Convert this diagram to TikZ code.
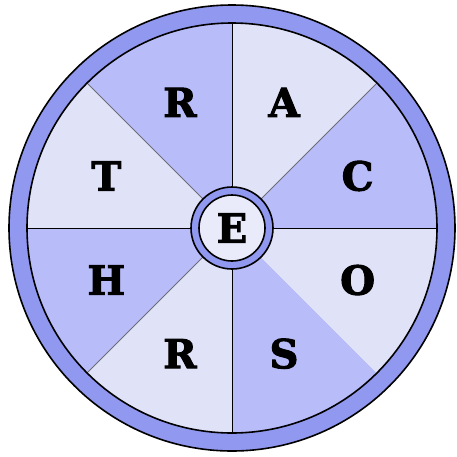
\documentclass[tikz,border=0pt]{standalone}
\usepackage{fontspec}
\newfontfamily\wheelfont{DejaVu Serif Bold}[FakeBold=2.5]
\definecolor{ringblue}{RGB}{144,152,240}
\definecolor{darkseg}{RGB}{184,188,248}
\definecolor{lightseg}{RGB}{224,226,248}
\definecolor{spokegray}{RGB}{110,110,120}

\begin{document}
\begin{tikzpicture}[
  x=1pt, y=1pt,
  letter/.style={font=\wheelfont\fontsize{40}{40}\selectfont, inner sep=0pt},
  rim/.style={draw=black, line width=1.6pt},
  spoke/.style={draw=black, line width=1pt},
  diag/.style={draw=spokegray, line width=1pt}]

\useasboundingbox (-232,-228) rectangle (225,228);

% Segments with letters
\foreach \a/\col/\txt [count=\i] in {0/darkseg/C, 45/lightseg/A, 90/darkseg/R, 135/lightseg/T,
    180/darkseg/H, 225/lightseg/R, 270/darkseg/S, 315/lightseg/O}{
  \fill[\col] (0,0) -- (\a:205) arc[start angle=\a, delta angle=45, radius=205] -- cycle;
  \node[letter] (l\i) at (\a+22.5:136) {\txt};
}

% Spokes
\foreach \a in {0,90,180,270}
  \draw[spoke] (\a:41) -- (\a:205);
\foreach \a in {45,135,225}
  \draw[diag] (\a:41) -- (\a:205);

% Outer ring
\fill[ringblue, even odd rule] (0,0) circle[radius=223] (0,0) circle[radius=205];
\draw[rim] (0,0) circle[radius=223];
\draw[rim] (0,0) circle[radius=205];

% Hub
\filldraw[fill=ringblue, rim] (0,0) circle[radius=41];
\filldraw[fill=lightseg!70!white, rim] (0,0) circle[radius=33];
\node[letter] (hub) at (0,0) {E};
\end{tikzpicture}
\end{document}
